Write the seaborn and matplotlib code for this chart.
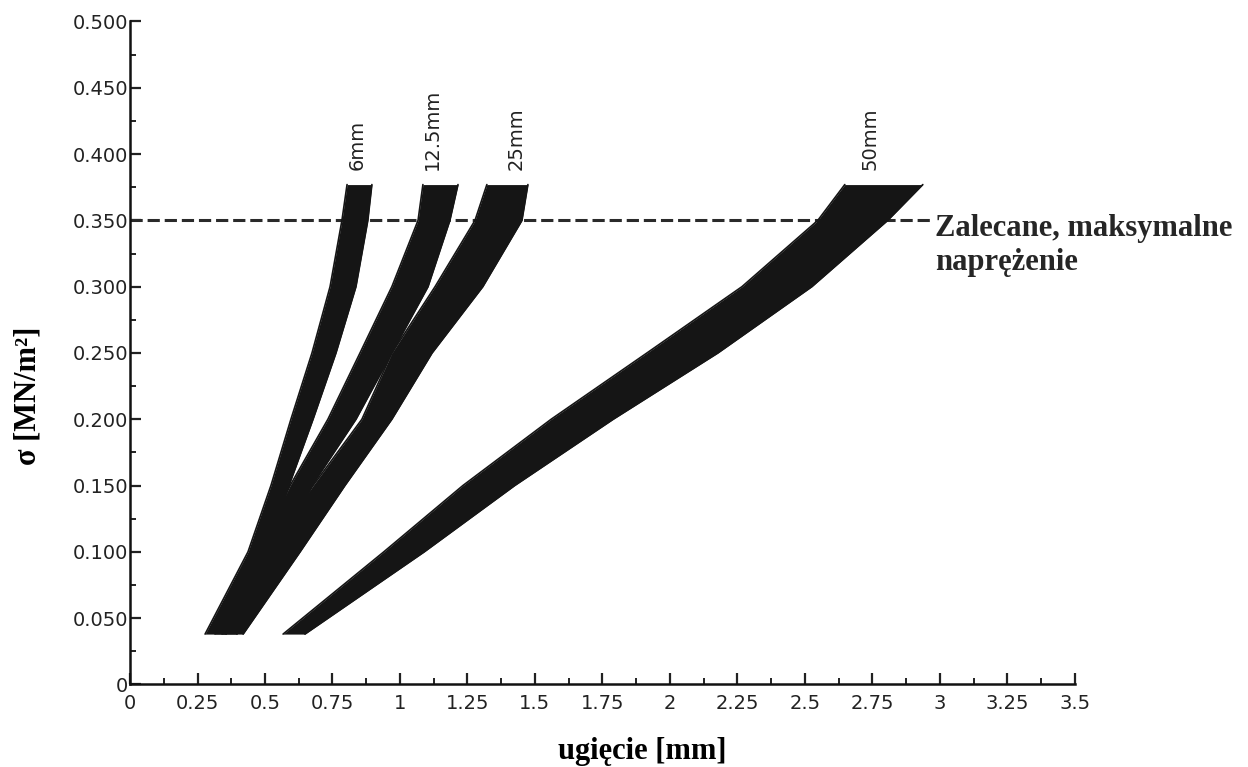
import matplotlib
matplotlib.use('Agg')
from matplotlib import pyplot as plt
from matplotlib.ticker import MultipleLocator
import pandas as pd
import seaborn as sns

stress = [0.038, 0.10, 0.15, 0.20, 0.25, 0.30, 0.35, 0.377]

# deflection [mm] of the left / right edge of every band
left_6 = [0.278, 0.437, 0.522, 0.596, 0.674, 0.741, 0.785, 0.804]
right_6 = [0.356, 0.504, 0.589, 0.678, 0.763, 0.837, 0.881, 0.896]
left_12 = [0.315, 0.474, 0.593, 0.733, 0.852, 0.970, 1.067, 1.085]
right_12 = [0.396, 0.563, 0.674, 0.837, 0.970, 1.104, 1.185, 1.215]
left_25 = [0.341, 0.511, 0.678, 0.859, 0.970, 1.130, 1.278, 1.322]
right_25 = [0.419, 0.630, 0.796, 0.970, 1.119, 1.307, 1.452, 1.474]
left_50 = [0.567, 0.940, 1.233, 1.560, 1.915, 2.267, 2.548, 2.648]
right_50 = [0.648, 1.090, 1.425, 1.790, 2.178, 2.526, 2.807, 2.937]

band_names = ['6mm', '12.5mm', '25mm', '50mm']
name_x = [0.84, 1.12, 1.43, 2.74]
name_y = 0.388

# recommended max stress line
limit_stress = 0.35
limit_x = [0.0, 2.97]

x_ticks = [0, 0.25, 0.5, 0.75, 1, 1.25, 1.5, 1.75, 2, 2.25, 2.5, 2.75, 3, 3.25, 3.5]
x_labels = ['0', '0.25', '0.5', '0.75', '1', '1.25', '1.5', '1.75', '2', '2.25',
            '2.5', '2.75', '3', '3.25', '3.5']
y_ticks = [0, 0.05, 0.1, 0.15, 0.2, 0.25, 0.3, 0.35, 0.4, 0.45, 0.5]
y_labels = ['0', '0.050', '0.100', '0.150', '0.200', '0.250', '0.300', '0.350',
            '0.400', '0.450', '0.500']

bands = [(left_6, right_6), (left_12, right_12), (left_25, right_25), (left_50, right_50)]

sns.set_theme(style='ticks')
plt.rcParams['font.family'] = ['DejaVu Sans']

fig = plt.figure(figsize=(12.48, 7.67), dpi=100)
ax = fig.add_axes([0.1042, 0.1076, 0.757, 0.8644])

ink = '#151515'

# dashed limit line (goes under the bands)
df_lim = pd.DataFrame({'x': limit_x, 'y': [limit_stress, limit_stress]})
sns.lineplot(data=df_lim, x='x', y='y', ax=ax, color='#2a2a2a', lw=2.2,
             dashes=False, linestyle=(0, (4, 1.6)), zorder=1)

for (lo, hi), name, nx in zip(bands, band_names, name_x):
    ax.fill_betweenx(stress, lo, hi, color=ink, lw=0, zorder=2)
    df_b = pd.DataFrame({'lo': lo, 'hi': hi, 's': stress})
    sns.lineplot(data=df_b, x='lo', y='s', ax=ax, color=ink, lw=1.2,
                 sort=False, estimator=None, zorder=3)
    sns.lineplot(data=df_b, x='hi', y='s', ax=ax, color=ink, lw=1.2,
                 sort=False, estimator=None, zorder=3)
    ax.text(nx, name_y, name, rotation=90, ha='center', va='bottom',
            fontsize=14, color='#222222')

ax.set_xlim(0, 3.5)
ax.set_ylim(0, 0.5)
ax.set_xticks(x_ticks)
ax.set_xticklabels(x_labels)
ax.set_yticks(y_ticks)
ax.set_yticklabels(y_labels)
ax.xaxis.set_minor_locator(MultipleLocator(0.125))
ax.yaxis.set_minor_locator(MultipleLocator(0.025))
ax.tick_params(axis='both', which='major', direction='in', length=8, width=1.6,
               labelsize=14, colors='#222222')
ax.tick_params(axis='both', which='minor', direction='in', length=4, width=1.4,
               colors='#222222')
ax.tick_params(axis='y', pad=1.5)
ax.tick_params(axis='x', pad=7)

sns.despine(ax=ax)
for side in ['left', 'bottom']:
    ax.spines[side].set_linewidth(1.8)
    ax.spines[side].set_color('#111111')

serif = dict(family=['Liberation Serif', 'DejaVu Serif'], weight='bold', size=22)
ax.set_xlabel('ugięcie [mm]', fontdict=serif, color='black')
ax.set_ylabel('σ [MN/m²]', fontdict=serif, color='black')
ax.xaxis.set_label_coords(0.542, -0.079)
ax.yaxis.set_label_coords(-0.093, 0.435)

fig.text(0.749, 1 - 236 / 767, 'Zalecane, maksymalne', ha='left', va='baseline', **serif)
fig.text(0.749, 1 - 270 / 767, 'naprężenie', ha='left', va='baseline', **serif)

fig.savefig('out.png', dpi=100)
